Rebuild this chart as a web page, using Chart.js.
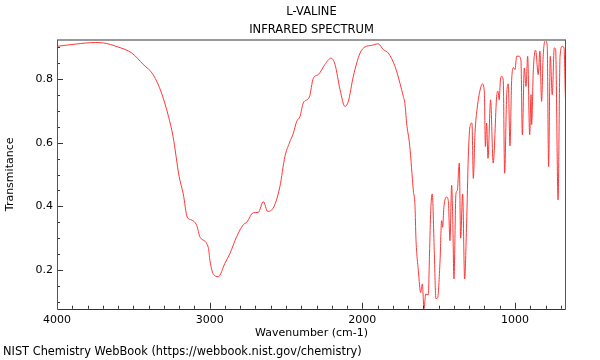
<!DOCTYPE html>
<html>
<head>
<meta charset="utf-8">
<script src="https://cdn.jsdelivr.net/npm/chart.js@4.4.1/dist/chart.umd.min.js"></script>
<style>
  html, body { margin: 0; padding: 0; background: #fff; }
  #wrap { width: 600px; height: 360px; position: relative; }
</style>
</head>
<body>
<div id="wrap"><canvas id="chart"></canvas></div>
<script>
const wavenumbers = [
  4000, 3880, 3750, 3700, 3600, 3510, 3435, 3370, 3315, 3270,
  3240, 3200, 3173, 3147, 3118, 3085, 3063, 3009, 2998, 2976,
  2943, 2900, 2867, 2823, 2780, 2757, 2714, 2681, 2649, 2620,
  2579, 2540, 2507, 2478, 2452, 2430, 2408, 2387, 2347, 2321,
  2289, 2245, 2205, 2179, 2146, 2114, 2092, 2059, 2015, 1983,
  1939, 1896, 1863, 1830, 1786, 1753, 1732, 1721, 1710, 1690,
  1666, 1655, 1649, 1633, 1618, 1607, 1596, 1585, 1568, 1560,
  1552, 1542, 1529, 1518, 1507, 1491, 1481, 1474, 1466, 1448,
  1437, 1426, 1415, 1408, 1400, 1387, 1378, 1365, 1356, 1343,
  1330, 1317, 1306, 1295, 1282, 1273, 1262, 1247, 1229, 1214,
  1201, 1194, 1186, 1177, 1160, 1143, 1120, 1111, 1104, 1095,
  1088, 1077, 1068, 1055, 1044, 1033, 1022, 1010, 1000, 989,
  974, 961, 952, 939, 928, 917, 904, 895, 891, 880,
  865, 848, 837, 826, 815, 799, 789, 780, 769, 756,
  743, 734, 718, 705, 690, 679, 670, 666
];
const transmittance = [
  0.903, 0.910, 0.915, 0.914, 0.901, 0.882, 0.846, 0.814, 0.756, 0.683,
  0.620, 0.494, 0.439, 0.366, 0.357, 0.340, 0.303, 0.271, 0.229, 0.187,
  0.179, 0.221, 0.252, 0.305, 0.342, 0.350, 0.380, 0.381, 0.415, 0.384,
  0.399, 0.462, 0.557, 0.599, 0.630, 0.667, 0.683, 0.725, 0.744, 0.803,
  0.814, 0.846, 0.866, 0.846, 0.767, 0.714, 0.730, 0.809, 0.882, 0.901,
  0.906, 0.911, 0.893, 0.882, 0.840, 0.786, 0.746, 0.723, 0.662, 0.592,
  0.450, 0.400, 0.300, 0.198, 0.129, 0.156, 0.078, 0.124, 0.122, 0.250,
  0.387, 0.439, 0.261, 0.110, 0.112, 0.229, 0.355, 0.334, 0.397, 0.429,
  0.418, 0.292, 0.466, 0.366, 0.172, 0.439, 0.450, 0.536, 0.300, 0.439,
  0.172, 0.345, 0.555, 0.651, 0.662, 0.488, 0.630, 0.712, 0.765, 0.785,
  0.760, 0.588, 0.662, 0.551, 0.735, 0.536, 0.746, 0.762, 0.735, 0.800,
  0.809, 0.796, 0.504, 0.744, 0.785, 0.590, 0.796, 0.836, 0.830, 0.872,
  0.872, 0.857, 0.625, 0.835, 0.777, 0.872, 0.625, 0.751, 0.657, 0.830,
  0.891, 0.814, 0.888, 0.730, 0.877, 0.922, 0.903, 0.525, 0.872, 0.751,
  0.898, 0.893, 0.420, 0.872, 0.903, 0.898, 0.746, 0.700
];

const xRange = [666, 4000];
const yRange = [0.078, 0.923];
const xTickValues = [];
for (let v = 4000; v >= 700; v -= 100) xTickValues.push(v);
const yTickValues = [0.1, 0.15, 0.2, 0.25, 0.3, 0.35, 0.4, 0.45, 0.5, 0.55, 0.6, 0.65, 0.7, 0.75, 0.8, 0.85, 0.9];

const points = wavenumbers.map((w, i) => ({ x: w, y: transmittance[i] }));

const isMajorX = v => v % 1000 === 0;
const isMajorY = v => Math.round(v * 100) % 20 === 0;

// inward tick marks + plot frame
const frameTicks = {
  id: 'frameTicks',
  afterDraw(chart) {
    const { ctx, chartArea: a, scales } = chart;
    ctx.save();
    ctx.lineWidth = 1;
    ctx.strokeStyle = '#333';
    ctx.beginPath();
    scales.x.ticks.forEach(t => {
      const px = Math.round(scales.x.getPixelForValue(t.value)) + 0.5;
      const len = isMajorX(t.value) ? 6 : 3;
      ctx.moveTo(px, a.bottom);
      ctx.lineTo(px, a.bottom - len);
    });
    scales.y.ticks.forEach(t => {
      const py = Math.round(scales.y.getPixelForValue(t.value)) + 0.5;
      const len = isMajorY(t.value) ? 6 : 3;
      ctx.moveTo(a.left, py);
      ctx.lineTo(a.left + len, py);
    });
    ctx.stroke();

    const l = Math.round(a.left) + 0.5, r = Math.round(a.right) - 0.5;
    const t = Math.round(a.top), b = Math.round(a.bottom) + 0.5;
    ctx.strokeStyle = '#999';
    ctx.lineWidth = 2;
    ctx.beginPath();
    ctx.moveTo(l - 0.5, t);
    ctx.lineTo(r + 0.5, t);
    ctx.stroke();
    ctx.lineWidth = 1;
    ctx.strokeStyle = '#555';
    ctx.beginPath();
    ctx.moveTo(r, t);
    ctx.lineTo(r, b);
    ctx.moveTo(l, t);
    ctx.lineTo(l, b);
    ctx.stroke();
    ctx.strokeStyle = '#333';
    ctx.beginPath();
    ctx.moveTo(l, b);
    ctx.lineTo(r, b);
    ctx.stroke();
    ctx.restore();
  }
};

Chart.defaults.font.family = "'DejaVu Sans', sans-serif";
Chart.defaults.font.size = 11;
Chart.defaults.color = '#000';

new Chart(document.getElementById('chart'), {
  type: 'line',
  data: {
    datasets: [{
      data: points,
      borderColor: '#ff3838',
      borderWidth: 1,
      pointRadius: 0,
      cubicInterpolationMode: 'monotone',
      fill: false
    }]
  },
  options: {
    responsive: true,
    maintainAspectRatio: false,
    animation: false,
    layout: { padding: { left: 3, right: 34, top: 0, bottom: 0 } },
    plugins: {
      legend: { display: false },
      tooltip: { enabled: false },
      title: {
        display: true,
        text: ['L-VALINE', 'INFRARED SPECTRUM'],
        fullSize: false,
        color: '#000',
        font: { size: 11.5, weight: 'normal', lineHeight: 1.565 },
        padding: { top: 3, bottom: 1 }
      },
      subtitle: {
        display: true,
        position: 'bottom',
        align: 'start',
        text: 'NIST Chemistry WebBook (https://webbook.nist.gov/chemistry)',
        color: '#000',
        font: { size: 11.4, lineHeight: 1.25 },
        padding: { top: 0, bottom: 1 }
      }
    },
    scales: {
      x: {
        type: 'linear',
        reverse: true,
        min: xRange[0],
        max: xRange[1],
        afterBuildTicks: s => { s.ticks = xTickValues.map(v => ({ value: v })); },
        afterFit: s => { s.height = 36; },
        grid: { display: false, drawTicks: false },
        border: { display: false },
        ticks: {
          autoSkip: false,
          maxRotation: 0,
          padding: 5,
          callback: v => (isMajorX(v) ? String(v) : '')
        },
        title: {
          display: true,
          text: 'Wavenumber (cm-1)',
          padding: { top: 0, bottom: 5 }
        }
      },
      y: {
        min: yRange[0],
        max: yRange[1],
        afterBuildTicks: s => { s.ticks = yTickValues.map(v => ({ value: v })); },
        afterFit: s => { s.width = 54; },
        grid: { display: false, drawTicks: false },
        border: { display: false },
        ticks: {
          autoSkip: false,
          padding: 4,
          callback: v => (isMajorY(v) ? v.toFixed(1) : '')
        },
        title: {
          display: true,
          text: 'Transmitance',
          padding: { top: 0.5, bottom: 0 }
        }
      }
    }
  },
  plugins: [frameTicks]
});
</script>
</body>
</html>
